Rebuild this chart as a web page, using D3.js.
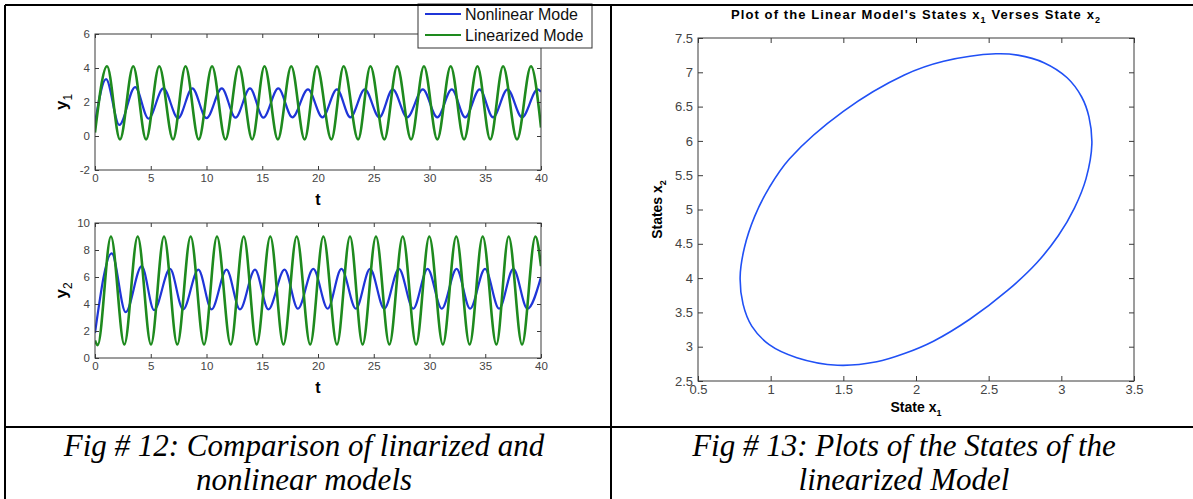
<!DOCTYPE html>
<html>
<head>
<meta charset="utf-8">
<script src="https://cdn.jsdelivr.net/npm/d3@7"></script>
<style>
  body { margin: 0; background: #fff; }
  text { font-family: "Liberation Sans", Arial, sans-serif; }
</style>
</head>
<body>
<script>
// ---- data ----
var tTicks = [0, 5, 10, 15, 20, 25, 30, 35, 40];
var y1Ticks = [-2, 0, 2, 4, 6];
var y2Ticks = [0, 2, 4, 6, 8, 10];
var x1Ticks = [0.5, 1, 1.5, 2, 2.5, 3, 3.5];
var x2Ticks = [2.5, 3, 3.5, 4, 4.5, 5, 5.5, 6, 6.5, 7, 7.5];

var seriesNames = ["Nonlinear Mode", "Linearized Mode"];
var captions = [
  ["Fig # 12: Comparison of linarized and", "nonlinear models"],
  ["Fig # 13: Plots of the States of the", "linearized Model"]
];

// y1, nonlinear model: [t, value] at start, turning points, end
var y1Nonlinear = [[0, 0.75], [0.99, 3.35], [2.18, 0.65], [3.6, 2.88], [4.8, 1.02], [6.13, 2.8],
  [7.45, 1.05], [8.73, 2.8], [10.0, 1.05], [11.37, 2.8], [12.6, 1.08], [13.9, 2.8], [15.1, 1.08],
  [16.44, 2.8], [17.7, 1.1], [19.1, 2.74], [20.4, 1.1], [21.7, 2.74], [22.9, 1.1], [24.2, 2.74],
  [25.5, 1.1], [26.7, 2.74], [28.0, 1.1], [29.4, 2.74], [30.7, 1.1], [32.0, 2.74], [33.2, 1.1],
  [34.5, 2.74], [35.7, 1.1], [37.0, 2.74], [38.3, 1.1], [39.7, 2.74], [40, 2.6]];

// y1, linearized model
var y1Linear = [[0, 0.2], [1.08, 4.1], [2.24, -0.2], [3.43, 4.1], [4.58, -0.2], [5.76, 4.1],
  [7.0, -0.2], [8.12, 4.1], [9.3, -0.2], [10.5, 4.1], [11.7, -0.2], [12.9, 4.1], [14.1, -0.2],
  [15.2, 4.1], [16.4, -0.2], [17.6, 4.1], [18.8, -0.2], [19.9, 4.1], [21.2, -0.2], [22.3, 4.1],
  [23.6, -0.2], [24.7, 4.1], [25.95, -0.2], [27.1, 4.1], [28.35, -0.2], [29.5, 4.1], [30.7, -0.2],
  [31.9, 4.1], [33.1, -0.2], [34.3, 4.1], [35.45, -0.2], [36.6, 4.1], [37.85, -0.2], [39.1, 4.1],
  [40, 0.5]];

// y2, nonlinear model
var y2Nonlinear = [[0, 1.85], [1.5, 7.75], [2.75, 3.4], [4.19, 6.8], [5.3, 3.55], [6.73, 6.6],
  [7.9, 3.6], [9.27, 6.55], [10.45, 3.6], [11.8, 6.55], [13.0, 3.6], [14.35, 6.55], [15.55, 3.6],
  [17.0, 6.55], [18.2, 3.65], [19.58, 6.6], [20.87, 3.65], [22.1, 6.6], [23.4, 3.65], [24.67, 6.6],
  [25.94, 3.65], [27.26, 6.6], [28.54, 3.65], [29.83, 6.6], [31.1, 3.65], [32.43, 6.6], [33.64, 3.65],
  [34.98, 6.6], [36.24, 3.65], [37.52, 6.6], [38.78, 3.65], [40, 6.0]];

// y2, linearized model
var y2Linear = [[0, 1.3], [0.24, 0.95], [1.43, 9.0], [2.63, 1.0], [3.83, 9.0], [5.02, 1.0],
  [6.19, 9.0], [7.38, 1.0], [8.58, 9.0], [9.78, 1.0], [10.94, 9.0], [12.17, 1.0], [13.34, 9.0],
  [14.5, 1.0], [15.72, 9.0], [16.9, 1.0], [18.09, 9.0], [19.3, 1.0], [20.48, 9.0], [21.7, 1.0],
  [22.87, 9.0], [24.0, 1.0], [25.2, 9.0], [26.4, 1.0], [27.6, 9.0], [28.8, 1.0], [29.98, 9.0],
  [31.2, 1.0], [32.4, 9.0], [33.6, 1.0], [34.77, 9.0], [36.0, 1.0], [37.1, 9.0], [38.3, 1.0],
  [39.5, 9.0], [40, 6.8]];

// linear model states, x1 vs x2, traced round the closed orbit
var stateOrbit = [[2.55, 7.27], [2.19, 7.16], [1.92, 6.96], [1.50, 6.43], [1.13, 5.74], [0.99, 5.32],
  [0.89, 4.90], [0.82, 4.45], [0.79, 4.02], [0.81, 3.62], [0.87, 3.30], [0.99, 3.03], [1.18, 2.84],
  [1.46, 2.73], [1.73, 2.78], [1.92, 2.90], [2.12, 3.08], [2.37, 3.40], [2.63, 3.82], [2.83, 4.22],
  [2.98, 4.62], [3.09, 5.02], [3.17, 5.45], [3.21, 5.95], [3.19, 6.35], [3.14, 6.64], [3.04, 6.92],
  [2.88, 7.14], [2.70, 7.25]];

var blue = "#1f35d8";
var green = "#1e8a1e";
var axisGrey = "#3a3a3a";

var svg = d3.select("body").append("svg")
    .attr("width", 1193)
    .attr("height", 499);

// draws a boxed matlab-style axes with inward ticks on all sides
function drawAxes(g, x, y, xVals, yVals, fmt, fontSize, tick) {
    var w = x.range()[1] - x.range()[0];
    var h = y.range()[0] - y.range()[1];

    g.append("g").attr("transform", "translate(0," + h + ")")
        .call(d3.axisBottom(x).tickValues(xVals).tickFormat(fmt).tickSizeInner(-tick).tickSizeOuter(0).tickPadding(4));
    g.append("g")
        .call(d3.axisLeft(y).tickValues(yVals).tickFormat(fmt).tickSizeInner(-tick).tickSizeOuter(0).tickPadding(5));
    g.append("g")
        .call(d3.axisTop(x).tickValues(xVals).tickFormat("").tickSizeInner(-tick).tickSizeOuter(0));
    g.append("g").attr("transform", "translate(" + w + ",0)")
        .call(d3.axisRight(y).tickValues(yVals).tickFormat("").tickSizeInner(-tick).tickSizeOuter(0));

    g.selectAll(".domain").remove();
    g.selectAll(".tick line").attr("stroke", axisGrey);
    g.selectAll(".tick text")
        .attr("fill", "#444")
        .style("font-size", fontSize + "px")
        .style("font-family", "'Liberation Sans', Arial, sans-serif");

    g.append("rect")
        .attr("width", w).attr("height", h)
        .attr("fill", "none")
        .attr("stroke", axisGrey)
        .attr("stroke-width", 1);
}

function timePlot(top, bottomPx, yDomain, yVals, nonlinear, linear, sub) {
    var left = 95, right = 541;
    var g = svg.append("g").attr("transform", "translate(" + left + "," + top + ")");
    var x = d3.scaleLinear().domain([0, 40]).range([0, right - left]);
    var y = d3.scaleLinear().domain(yDomain).range([bottomPx - top, 0]);

    g.append("rect").attr("width", right - left).attr("height", bottomPx - top).attr("fill", "#fff");

    var clipId = "clip" + sub;
    g.append("clipPath").attr("id", clipId)
        .append("rect").attr("width", right - left).attr("height", bottomPx - top);

    var line = d3.line()
        .x(function(d) { return x(d[0]); })
        .y(function(d) { return y(d[1]); })
        .curve(d3.curveMonotoneX);

    g.append("path").datum(nonlinear)
        .attr("clip-path", "url(#" + clipId + ")")
        .attr("d", line).attr("fill", "none")
        .attr("stroke", blue).attr("stroke-width", 2.2);
    g.append("path").datum(linear)
        .attr("clip-path", "url(#" + clipId + ")")
        .attr("d", line).attr("fill", "none")
        .attr("stroke", green).attr("stroke-width", 2.6);

    drawAxes(g, x, y, tTicks, yVals, function(d) { return String(d); }, 11.5, 4);

    // y label
    var ly = g.append("text")
        .attr("transform", "translate(-28," + ((bottomPx - top) / 2) + ") rotate(-90)")
        .attr("text-anchor", "middle")
        .style("font-size", "17px").style("font-weight", "bold");
    ly.append("tspan").text("y");
    ly.append("tspan").attr("dy", 5).style("font-size", "12px").style("font-weight", "normal").text(sub);

    // t label
    g.append("text")
        .attr("x", (right - left) / 2).attr("y", bottomPx - top + 35)
        .attr("text-anchor", "middle")
        .style("font-size", "16px").style("font-weight", "bold")
        .text("t");
}

timePlot(34, 170, [-2, 6], y1Ticks, y1Nonlinear, y1Linear, "1");
timePlot(223, 358, [0, 10], y2Ticks, y2Nonlinear, y2Linear, "2");

// legend
var leg = svg.append("g");
leg.append("rect")
    .attr("x", 418).attr("y", 4).attr("width", 174).attr("height", 44)
    .attr("fill", "#fff").attr("stroke", "#333").attr("stroke-width", 1);
[blue, green].forEach(function(c, i) {
    var yy = 14 + i * 21;
    leg.append("line").attr("x1", 425).attr("x2", 461).attr("y1", yy).attr("y2", yy)
        .attr("stroke", c).attr("stroke-width", 2.2);
    leg.append("text").attr("x", 465).attr("y", yy + 6)
        .style("font-size", "16px").attr("fill", "#111")
        .text(seriesNames[i]);
});

// state plot
(function() {
    var left = 698, right = 1134, top = 38, bottom = 381;
    var g = svg.append("g").attr("transform", "translate(" + left + "," + top + ")");
    var x = d3.scaleLinear().domain([0.5, 3.5]).range([0, right - left]);
    var y = d3.scaleLinear().domain([2.5, 7.5]).range([bottom - top, 0]);

    g.append("path").datum(stateOrbit)
        .attr("d", d3.line()
            .x(function(d) { return x(d[0]); })
            .y(function(d) { return y(d[1]); })
            .curve(d3.curveCatmullRomClosed))
        .attr("fill", "none")
        .attr("stroke", "#2050f5").attr("stroke-width", 1.6);

    drawAxes(g, x, y, x1Ticks, x2Ticks, d3.format("~g"), 13, 5);

    var w = right - left;
    var title = g.append("text")
        .attr("x", w / 2).attr("y", -19)
        .attr("text-anchor", "middle")
        .style("font-size", "13px").style("font-weight", "bold")
        .style("letter-spacing", "1.1px");
    title.append("tspan").text("Plot of the Linear Model's States x");
    title.append("tspan").attr("dy", 4).style("font-size", "9px").text("1");
    title.append("tspan").attr("dy", -4).text(" Verses State x");
    title.append("tspan").attr("dy", 4).style("font-size", "9px").text("2");

    var xl = g.append("text")
        .attr("x", w / 2).attr("y", bottom - top + 31)
        .attr("text-anchor", "middle")
        .style("font-size", "14px").style("font-weight", "bold");
    xl.append("tspan").text("State x");
    xl.append("tspan").attr("dy", 4).style("font-size", "9px").text("1");

    var yl = g.append("text")
        .attr("transform", "translate(-36," + ((bottom - top) / 2) + ") rotate(-90)")
        .attr("text-anchor", "middle")
        .style("font-size", "14px").style("font-weight", "bold");
    yl.append("tspan").text("States x");
    yl.append("tspan").attr("dy", 4).style("font-size", "9px").text("2");
})();

// table rules
var rules = [[5, 5, 1193, 5], [5, 5, 5, 499], [611, 5, 611, 499], [5, 427, 1193, 427]];
svg.selectAll("line.rule").data(rules).enter().append("line")
    .attr("class", "rule")
    .attr("x1", function(d) { return d[0]; }).attr("y1", function(d) { return d[1]; })
    .attr("x2", function(d) { return d[2]; }).attr("y2", function(d) { return d[3]; })
    .attr("stroke", "#000").attr("stroke-width", 2);

// captions
var capCentres = [304, 904];
captions.forEach(function(lines, i) {
    lines.forEach(function(s, j) {
        svg.append("text")
            .attr("x", capCentres[i]).attr("y", 456 + j * 34)
            .attr("text-anchor", "middle")
            .style("font-family", "'Liberation Serif', 'Times New Roman', serif")
            .style("font-style", "italic")
            .style("font-size", "31px")
            .text(s);
    });
});
</script>
</body>
</html>
